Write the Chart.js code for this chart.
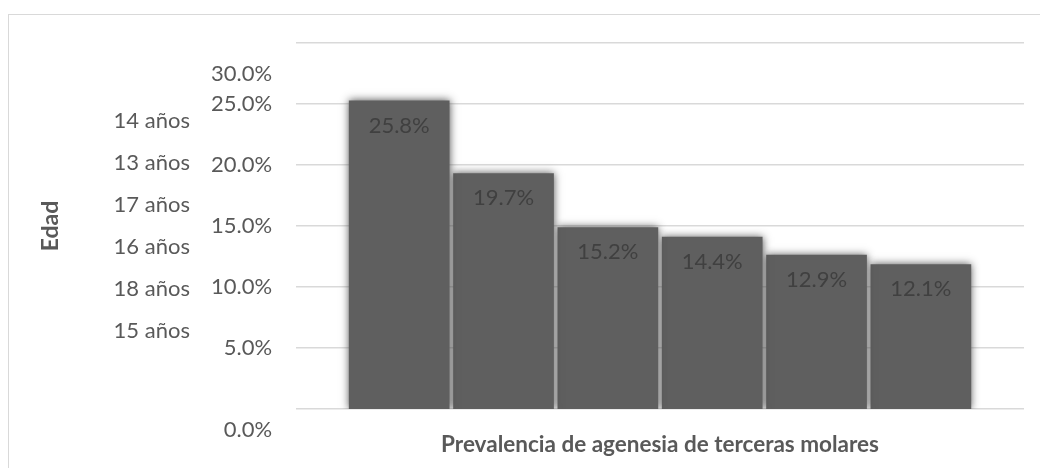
<!DOCTYPE html>
<html>
<head>
<meta charset="utf-8">
<script src="https://cdn.jsdelivr.net/npm/chart.js@4.4.1/dist/chart.umd.min.js"></script>
<style>
  html, body { margin: 0; padding: 0; background: #ffffff; overflow: hidden; }
  #wrap { position: relative; width: 1040px; height: 468px; }
  #frame { position: absolute; left: 8px; top: 14px; width: 1100px; height: 520px; border: 1px solid #d9d9d9; box-sizing: border-box; }
  #c { position: absolute; left: 0; top: 0; }
</style>
</head>
<body>
<div id="wrap">
  <div id="frame"></div>
  <canvas id="c" width="1040" height="468"></canvas>
</div>
<script>
// ---- data ----
const categories = [''];
const seriesNames = ['14 años', '13 años', '17 años', '16 años', '18 años', '15 años'];
const seriesValues = [25.8, 19.7, 15.2, 14.4, 12.9, 12.1];
const yTicks = [0, 5, 10, 15, 20, 25, 30];
const yAxisTitle = 'Edad';
const xAxisTitle = 'Prevalencia de agenesia de terceras molares';

const FONT = 'Lato, "Open Sans", sans-serif';
const TEXT = '#595959';

const datasets = seriesNames.map((name, i) => ({
  label: name,
  data: [seriesValues[i]],
  yAxisID: 'yBars',
  backgroundColor: '#5f5f5f',
  borderWidth: 0,
  barPercentage: 0.965,
  categoryPercentage: 0.86
}));

const softBars = {
  id: 'softBars',
  beforeDatasetsDraw(chart) {
    const ctx = chart.ctx;
    ctx.save();
    ctx.shadowColor = 'rgba(70,70,70,0.9)';
    ctx.shadowBlur = 8;
  },
  afterDatasetsDraw(chart) {
    chart.ctx.restore();
  }
};

const barLabels = {
  id: 'barLabels',
  afterDatasetsDraw(chart) {
    const ctx = chart.ctx;
    ctx.save();
    ctx.font = '22px ' + FONT;
    ctx.fillStyle = '#404040';
    ctx.textAlign = 'center';
    ctx.textBaseline = 'middle';
    chart.data.datasets.forEach((ds, i) => {
      const meta = chart.getDatasetMeta(i);
      meta.data.forEach((bar, j) => {
        const v = ds.data[j];
        ctx.fillText(v.toFixed(1) + '%', bar.x, bar.y + 25);
      });
    });
    ctx.restore();
  }
};

new Chart(document.getElementById('c'), {
  type: 'bar',
  data: { labels: categories, datasets },
  options: {
    responsive: false,
    animation: false,
    devicePixelRatio: 1,
    layout: { padding: { left: 0, right: 16, top: 43, bottom: 10 } },
    plugins: {
      tooltip: { enabled: false },
      title: {
        display: true,
        text: yAxisTitle,
        position: 'left',
        fullSize: false,
        color: TEXT,
        font: { family: FONT, size: 23, weight: 'bold' },
        padding: { top: 37, bottom: 26 }
      },
      legend: {
        display: true,
        position: 'left',
        fullSize: false,
        labels: {
          color: TEXT,
          font: { family: FONT, size: 22 },
          boxWidth: 0,
          boxHeight: 30,
          padding: 12,
          generateLabels(chart) {
            return Chart.defaults.plugins.legend.labels.generateLabels(chart).map(l => {
              l.fillStyle = 'rgba(0,0,0,0)';
              l.strokeStyle = 'rgba(0,0,0,0)';
              l.lineWidth = 0;
              return l;
            });
          }
        }
      }
    },
    scales: {
      x: {
        grid: { display: false, drawTicks: false },
        border: { display: false },
        ticks: { display: false },
        title: {
          display: true,
          text: xAxisTitle,
          color: TEXT,
          font: { family: FONT, size: 22.5, weight: 'bold' },
          padding: { top: 22, bottom: 0 }
        }
      },
      y: {
        min: 0,
        max: 30,
        afterBuildTicks(scale) {
          scale.ticks = yTicks.map(v => ({ value: v }));
        },
        afterFit(scale) { scale.width += 11; },
        z: 1,
        grid: {
          color: 'rgba(0,0,0,0.15)',
          lineWidth: 1.5,
          drawTicks: true,
          tickLength: 24,
          tickColor: 'rgba(0,0,0,0)'
        },
        border: { display: false },
        ticks: {
          color: TEXT,
          padding: 0,
          autoSkip: false,
          font: { family: FONT, size: 22, lineHeight: 0.95 },
          callback(v) {
            const s = v.toFixed(1) + '%';
            if (v === 30) return ['', '', '', s];
            if (v === 0) return ['', '', s];
            return s;
          }
        }
      },
      yBars: {
        display: false,
        min: 0,
        max: 30.6
      }
    }
  },
  plugins: [softBars, barLabels]
});
</script>
</body>
</html>
